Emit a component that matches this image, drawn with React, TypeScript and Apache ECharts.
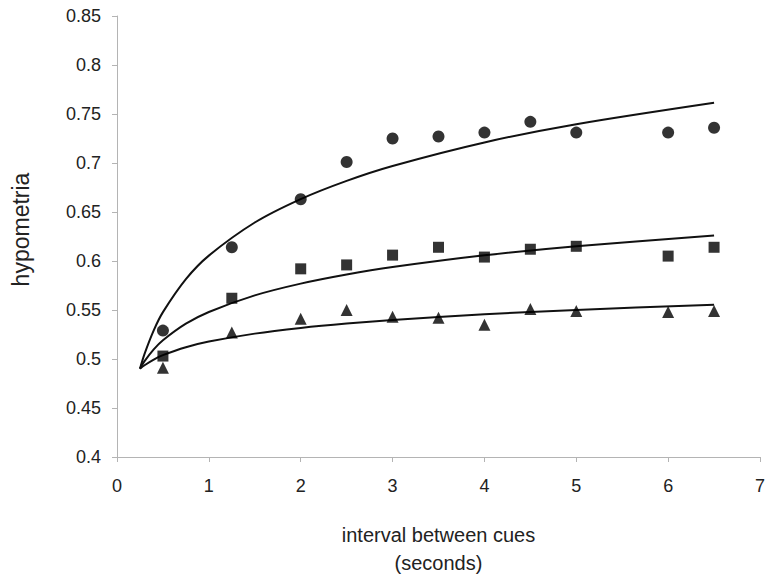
import React, { useEffect, useRef } from "react";
import * as echarts from "echarts";

// observed points
const xPoints = [0.5, 1.25, 2, 2.5, 3, 3.5, 4, 4.5, 5, 6, 6.5];
const circleValues = [0.529, 0.614, 0.663, 0.701, 0.725, 0.727, 0.731, 0.742, 0.731, 0.731, 0.736];
const squareValues = [0.503, 0.562, 0.592, 0.596, 0.606, 0.614, 0.604, 0.612, 0.615, 0.605, 0.614];
const triangleValues = [0.491, 0.527, 0.541, 0.55, 0.543, 0.542, 0.535, 0.551, 0.549, 0.548, 0.549];

// fitted trend curves
const xCurve = [0.25, 0.3, 0.4, 0.5, 0.75, 1, 1.5, 2, 2.5, 3, 4, 5, 6.5];
const circleCurve = [0.49, 0.5052, 0.5292, 0.5478, 0.5815, 0.6055, 0.6393, 0.6632, 0.6818, 0.697, 0.721, 0.7396, 0.7615];
const squareCurve = [0.4902, 0.4978, 0.5098, 0.5191, 0.536, 0.548, 0.5649, 0.5769, 0.5862, 0.5938, 0.6058, 0.6151, 0.6261];
const triangleCurve = [0.49, 0.4936, 0.4994, 0.5039, 0.512, 0.5178, 0.5259, 0.5317, 0.5362, 0.5398, 0.5456, 0.5501, 0.5554];

const xTitle = "interval between cues\n(seconds)";
const yTitle = "hypometria";

const pair = (xs: number[], ys: number[]) => xs.map((x, i) => [x, ys[i]]);

export default function App() {
  const ref = useRef<HTMLDivElement>(null);
  useEffect(() => {
    if (!ref.current) return;
    const chart = echarts.init(ref.current, undefined, { renderer: "svg" });
    const font = "'Liberation Sans', Arial, sans-serif";
    const lineSeries = (data: number[][]) => ({
      type: "line",
      data,
      smooth: 0.3,
      showSymbol: false,
      symbol: "none",
      lineStyle: { color: "#111", width: 2 },
      z: 2,
    });
    const scatterSeries = (data: number[][], symbol: string, size: number) => ({
      type: "scatter",
      data,
      symbol,
      symbolSize: size,
      itemStyle: { color: "#000" },
      z: 3,
    });
    chart.setOption({
      animation: false,
      backgroundColor: "#fff",
      grid: { left: 117, right: 8, top: 16, bottom: 122 },
      xAxis: {
        type: "value",
        min: 0,
        max: 7,
        interval: 1,
        name: xTitle,
        nameLocation: "middle",
        nameGap: 64,
        nameTextStyle: { fontFamily: font, fontSize: 20, color: "#222", lineHeight: 28 },
        axisLine: { lineStyle: { color: "#b4b4b4" } },
        axisTick: { show: true, length: 5, lineStyle: { color: "#b4b4b4" } },
        axisLabel: { fontFamily: font, fontSize: 18, color: "#222", margin: 20 },
        splitLine: { show: false },
      },
      yAxis: {
        type: "value",
        min: 0.4,
        max: 0.85,
        interval: 0.05,
        name: yTitle,
        nameLocation: "middle",
        nameGap: 85,
        nameRotate: 90,
        nameTextStyle: { fontFamily: font, fontSize: 23, color: "#222", padding: [0, 0, 0, 14] },
        axisLine: { show: true, lineStyle: { color: "#b4b4b4" } },
        axisTick: { show: true, length: 5, lineStyle: { color: "#b4b4b4" } },
        axisLabel: { fontFamily: font, fontSize: 18, color: "#222", margin: 16 },
        splitLine: { show: false },
      },
      series: [
        lineSeries(pair(xCurve, circleCurve)),
        lineSeries(pair(xCurve, squareCurve)),
        lineSeries(pair(xCurve, triangleCurve)),
        scatterSeries(pair(xPoints, circleValues), "circle", 12),
        scatterSeries(pair(xPoints, squareValues), "rect", 11),
        scatterSeries(pair(xPoints, triangleValues), "triangle", 12),
      ],
    });
    return () => chart.dispose();
  }, []);
  return (
    <div
      ref={ref}
      style={{ position: "fixed", left: 0, top: 0, width: 768, height: 582, background: "#fff" }}
    />
  );
}
